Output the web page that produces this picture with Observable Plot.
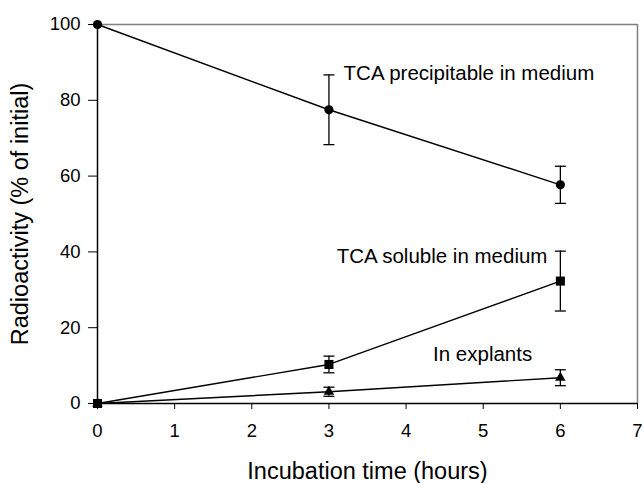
<!DOCTYPE html>
<html>
<head>
<meta charset="utf-8">
<script src="https://cdn.jsdelivr.net/npm/d3@7"></script>
<script src="https://cdn.jsdelivr.net/npm/@observablehq/plot@0.6"></script>
<style>
  html, body { margin: 0; padding: 0; background: #fff; }
  #chart { width: 644px; height: 483px; }
  #chart svg g[aria-label="x-axis label"] text,
  #chart svg g[aria-label="y-axis label"] text { font-size: 23.5px; }
</style>
</head>
<body>
<div id="chart"></div>
<script>
// ---- data ----
const times = [0, 3, 6];
const precipitable = [100, 77.5, 57.7];
const precipitableErr = [0, 9.2, 4.9];
const soluble = [0, 10.3, 32.3];
const solubleErr = [0, 2.2, 7.9];
const explants = [0, 3.1, 6.8];
const explantsErr = [0, 1.2, 2.1];

const seriesNames = ["TCA precipitable in medium", "TCA soluble in medium", "In explants"];
const seriesSymbols = ["circle", "square", "triangle"];
const seriesValues = [precipitable, soluble, explants];
const seriesErrors = [precipitableErr, solubleErr, explantsErr];

const labelX = [3.19, 3.1, 4.35];
const labelY = [87, 38.8, 12.9];

const xTicks = [0, 1, 2, 3, 4, 5, 6, 7];
const yTicks = [0, 20, 40, 60, 80, 100];

// ---- build tables ----
const points = [];
seriesNames.forEach((name, i) => {
  times.forEach((t, j) => {
    points.push({series: name, symbol: seriesSymbols[i], x: t, y: seriesValues[i][j], err: seriesErrors[i][j]});
  });
});
const errPoints = points.filter(d => d.err > 0);
const labels = seriesNames.map((name, i) => ({text: name, x: labelX[i], y: labelY[i]}));

const cap = {
  draw(context, size) {
    context.moveTo(-5.5, 0);
    context.lineTo(5.5, 0);
  }
};

const font = "'Liberation Sans', Arial, Helvetica, sans-serif";

const chart = Plot.plot({
  width: 644,
  height: 483,
  marginLeft: 97,
  marginRight: 7,
  marginTop: 24,
  marginBottom: 80,
  style: {fontFamily: font, fontSize: "18.5px", color: "#000", background: "#fff", overflow: "visible"},
  x: {domain: [0, 7], ticks: xTicks, tickFormat: d3.format("d"), tickSize: 6, tickPadding: 14, label: "Incubation time (hours)", labelAnchor: "center", labelOffset: 75, labelArrow: false},
  y: {domain: [0, 100], ticks: yTicks, tickFormat: d3.format("d"), tickSize: 9, tickPadding: 8, label: "Radioactivity (% of initial)", labelAnchor: "center", labelOffset: 86, labelArrow: false},
  marks: [
    Plot.ruleY([100], {stroke: "#808080", strokeWidth: 1.5}),
    Plot.ruleX([7], {stroke: "#808080", strokeWidth: 1.5}),
    Plot.ruleX([0], {stroke: "#000", strokeWidth: 1.5}),
    Plot.ruleY([0], {stroke: "#000", strokeWidth: 1.5}),
    Plot.line(points, {x: "x", y: "y", z: "series", stroke: "#000", strokeWidth: 1.4}),
    Plot.ruleX(errPoints, {x: "x", y1: d => d.y - d.err, y2: d => d.y + d.err, stroke: "#000", strokeWidth: 1.3}),
    Plot.dot(errPoints, {x: "x", y: d => d.y + d.err, symbol: () => cap, stroke: "#000", strokeWidth: 1.3, fill: "none"}),
    Plot.dot(errPoints, {x: "x", y: d => d.y - d.err, symbol: () => cap, stroke: "#000", strokeWidth: 1.3, fill: "none"}),
    Plot.dot(points.filter(d => d.symbol === "circle"), {x: "x", y: "y", symbol: "circle", r: 4.6, fill: "#000", stroke: "none"}),
    Plot.dot(points.filter(d => d.symbol === "square"), {x: "x", y: "y", symbol: "square", r: 5.1, fill: "#000", stroke: "none"}),
    Plot.dot(points.filter(d => d.symbol === "triangle"), {x: "x", y: "y", symbol: "triangle", r: 3.9, fill: "#000", stroke: "none"}),
    Plot.text(labels, {x: "x", y: "y", text: "text", textAnchor: "start", fontSize: 20.5, fill: "#000"})
  ]
});
document.getElementById("chart").appendChild(chart);
</script>
</body>
</html>
